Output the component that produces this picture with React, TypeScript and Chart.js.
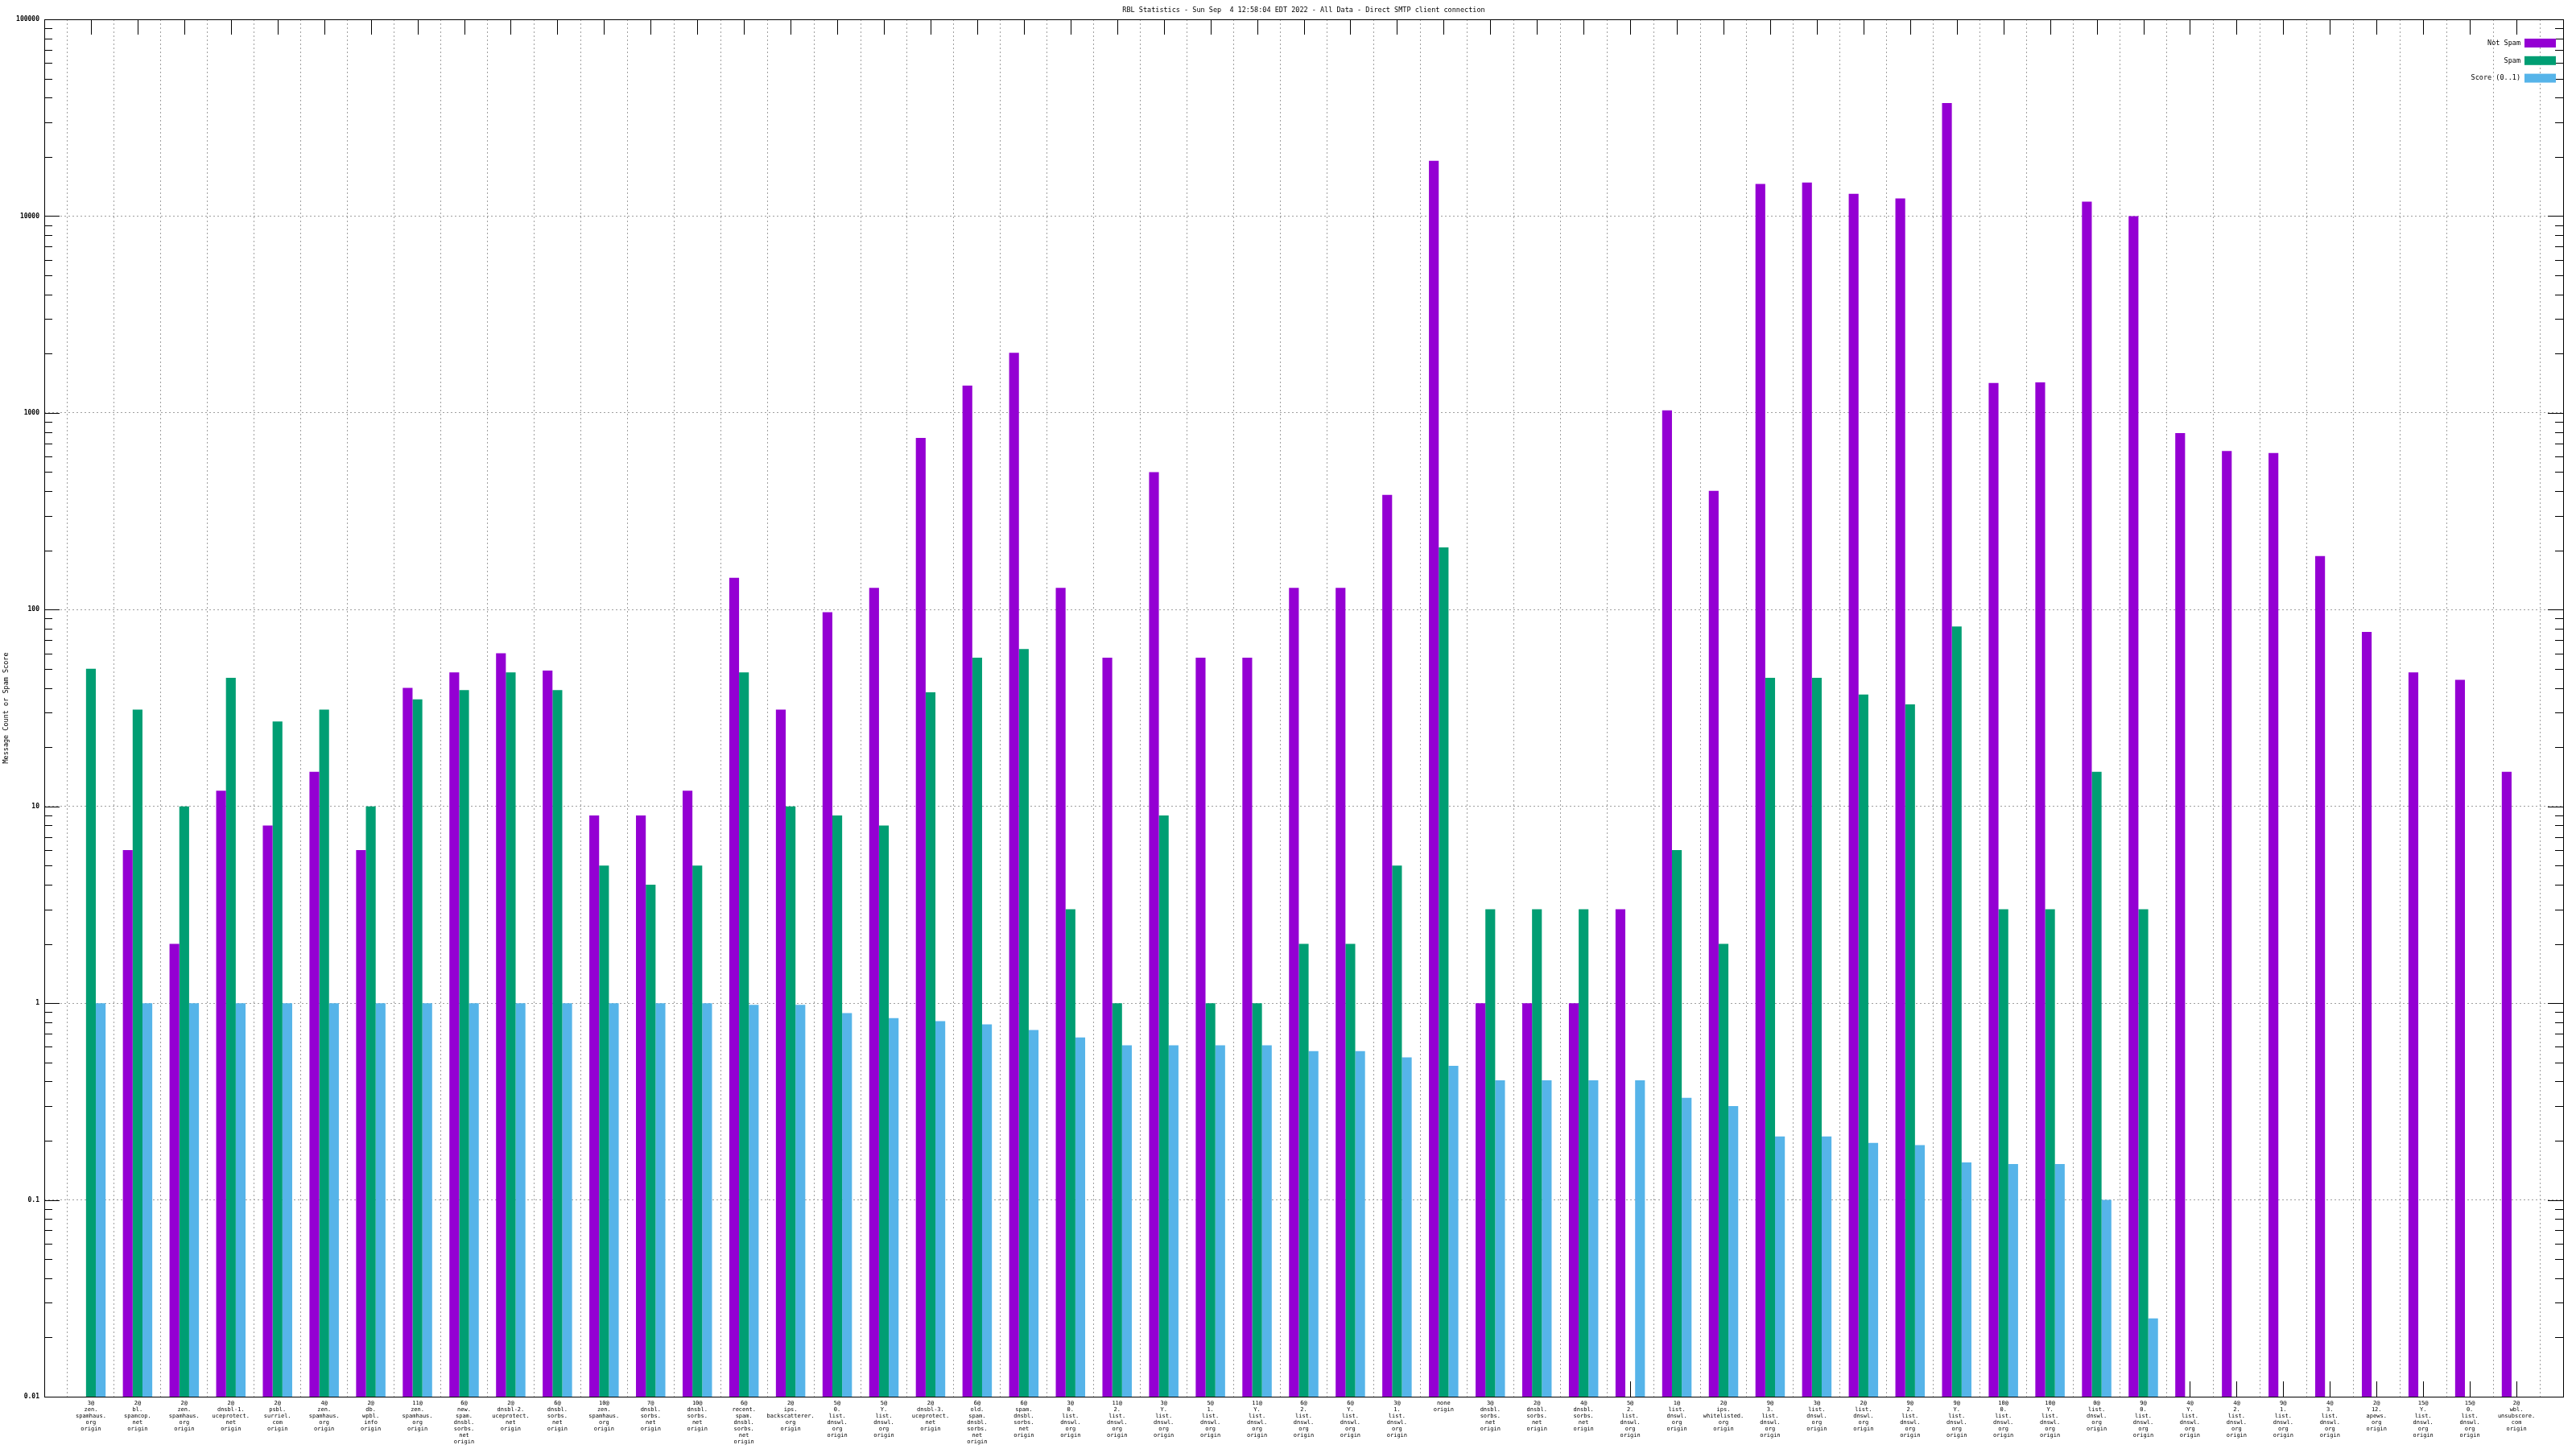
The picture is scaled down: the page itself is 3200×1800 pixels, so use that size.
import React, { useEffect, useRef } from "react";
import { Chart, registerables } from "chart.js";

Chart.register(...registerables);

const chartTitle =
  "RBL Statistics - Sun Sep  4 12:58:04 EDT 2022 - All Data - Direct SMTP client connection";
const yAxisTitle = "Message Count or Spam Score";

const categories: string[][] = [
  ["3@", "zen.", "spamhaus.", "org", "origin"],
  ["2@", "bl.", "spamcop.", "net", "origin"],
  ["2@", "zen.", "spamhaus.", "org", "origin"],
  ["2@", "dnsbl-1.", "uceprotect.", "net", "origin"],
  ["2@", "psbl.", "surriel.", "com", "origin"],
  ["4@", "zen.", "spamhaus.", "org", "origin"],
  ["2@", "db.", "wpbl.", "info", "origin"],
  ["11@", "zen.", "spamhaus.", "org", "origin"],
  ["6@", "new.", "spam.", "dnsbl.", "sorbs.", "net", "origin"],
  ["2@", "dnsbl-2.", "uceprotect.", "net", "origin"],
  ["6@", "dnsbl.", "sorbs.", "net", "origin"],
  ["10@", "zen.", "spamhaus.", "org", "origin"],
  ["7@", "dnsbl.", "sorbs.", "net", "origin"],
  ["10@", "dnsbl.", "sorbs.", "net", "origin"],
  ["6@", "recent.", "spam.", "dnsbl.", "sorbs.", "net", "origin"],
  ["2@", "ips.", "backscatterer.", "org", "origin"],
  ["5@", "0.", "list.", "dnswl.", "org", "origin"],
  ["5@", "Y.", "list.", "dnswl.", "org", "origin"],
  ["2@", "dnsbl-3.", "uceprotect.", "net", "origin"],
  ["6@", "old.", "spam.", "dnsbl.", "sorbs.", "net", "origin"],
  ["6@", "spam.", "dnsbl.", "sorbs.", "net", "origin"],
  ["3@", "0.", "list.", "dnswl.", "org", "origin"],
  ["11@", "2.", "list.", "dnswl.", "org", "origin"],
  ["3@", "Y.", "list.", "dnswl.", "org", "origin"],
  ["5@", "1.", "list.", "dnswl.", "org", "origin"],
  ["11@", "Y.", "list.", "dnswl.", "org", "origin"],
  ["6@", "2.", "list.", "dnswl.", "org", "origin"],
  ["6@", "Y.", "list.", "dnswl.", "org", "origin"],
  ["3@", "1.", "list.", "dnswl.", "org", "origin"],
  ["none", "origin"],
  ["3@", "dnsbl.", "sorbs.", "net", "origin"],
  ["2@", "dnsbl.", "sorbs.", "net", "origin"],
  ["4@", "dnsbl.", "sorbs.", "net", "origin"],
  ["5@", "2.", "list.", "dnswl.", "org", "origin"],
  ["1@", "list.", "dnswl.", "org", "origin"],
  ["2@", "ips.", "whitelisted.", "org", "origin"],
  ["9@", "3.", "list.", "dnswl.", "org", "origin"],
  ["3@", "list.", "dnswl.", "org", "origin"],
  ["2@", "list.", "dnswl.", "org", "origin"],
  ["9@", "2.", "list.", "dnswl.", "org", "origin"],
  ["9@", "Y.", "list.", "dnswl.", "org", "origin"],
  ["10@", "0.", "list.", "dnswl.", "org", "origin"],
  ["10@", "Y.", "list.", "dnswl.", "org", "origin"],
  ["0@", "list.", "dnswl.", "org", "origin"],
  ["9@", "0.", "list.", "dnswl.", "org", "origin"],
  ["4@", "Y.", "list.", "dnswl.", "org", "origin"],
  ["4@", "2.", "list.", "dnswl.", "org", "origin"],
  ["9@", "1.", "list.", "dnswl.", "org", "origin"],
  ["4@", "3.", "list.", "dnswl.", "org", "origin"],
  ["2@", "12.", "apews.", "org", "origin"],
  ["15@", "Y.", "list.", "dnswl.", "org", "origin"],
  ["15@", "0.", "list.", "dnswl.", "org", "origin"],
  ["2@", "wbl.", "unsubscore.", "com", "origin"],
];

const notSpam: (number | null)[] = [
  null, 6, 2, 12, 8, 15, 6, 40, 48, 60, 49, 9, 9, 12, 145, 31, 97, 129, 745, 1375,
  2020, 129, 57, 500, 57, 57, 129, 129, 383, 19090, 1, 1, 1, 3, 1029, 401, 14560,
  14825, 12970, 12290, 37500, 1418, 1430, 11830, 10000, 790, 640, 625, 187, 77, 48,
  44, 15,
];

const spam: (number | null)[] = [
  50, 31, 10, 45, 27, 31, 10, 35, 39, 48, 39, 5, 4, 5, 48, 10, 9, 8, 38, 57, 63, 3,
  1, 9, 1, 1, 2, 2, 5, 207, 3, 3, 3, null, 6, 2, 45, 45, 37, 33, 82, 3, 3, 15, 3,
  null, null, null, null, null, null, null, null,
];

const score: (number | null)[] = [
  1, 1, 1, 1, 1, 1, 1, 1, 1, 1, 1, 1, 1, 1, 0.98, 0.98, 0.89, 0.84, 0.81, 0.78,
  0.73, 0.67, 0.61, 0.61, 0.61, 0.61, 0.57, 0.57, 0.53, 0.48, 0.405, 0.405, 0.405,
  0.405, 0.33, 0.3, 0.21, 0.21, 0.195, 0.19, 0.155, 0.152, 0.152, 0.1, 0.025,
  null, null, null, null, null, null, null, null,
];

const seriesNames = ["Not Spam", "Spam", "Score (0..1)"];
const seriesColors = ["#9400D3", "#009E73", "#56B4E9"];

const yTicks = [0.01, 0.1, 1, 10, 100, 1000, 10000, 100000];
const yTickLabels = ["0.01", "0.1", "1", "10", "100", "1000", "10000", "100000"];
const minorMultipliers = [2, 3, 4, 5, 6, 7, 8, 9];

const MONO = "'DejaVu Sans Mono', 'Liberation Mono', monospace";

const decorPlugin = {
  id: "gnuplotDecor",
  beforeDatasetsDraw(chart: any) {
    const { ctx, chartArea: a, scales } = chart;
    const xs = scales.x;
    const ys = scales.y;
    ctx.save();
    ctx.strokeStyle = "#000";
    ctx.lineWidth = 1;
    ctx.beginPath();
    yTicks.forEach((v) => {
      const py = Math.round(ys.getPixelForValue(v)) + 0.5;
      ctx.moveTo(a.left, py);
      ctx.lineTo(a.left + 19, py);
      ctx.moveTo(a.right, py);
      ctx.lineTo(a.right - 19, py);
      if (v < 100000) {
        minorMultipliers.forEach((m) => {
          const pm = Math.round(ys.getPixelForValue(v * m)) + 0.5;
          ctx.moveTo(a.left, pm);
          ctx.lineTo(a.left + 10, pm);
          ctx.moveTo(a.right, pm);
          ctx.lineTo(a.right - 10, pm);
        });
      }
    });
    categories.forEach((_, i) => {
      const px = Math.round(xs.getPixelForValue(i)) + 0.5;
      ctx.moveTo(px, a.top);
      ctx.lineTo(px, a.top + 19);
      ctx.moveTo(px, a.bottom);
      ctx.lineTo(px, a.bottom - 19);
    });
    ctx.stroke();
    ctx.restore();
  },
  afterDatasetsDraw(chart: any) {
    const { ctx, chartArea: a } = chart;
    ctx.save();
    ctx.strokeStyle = "#000";
    ctx.lineWidth = 1;
    ctx.strokeRect(Math.round(a.left) + 0.5, Math.round(a.top) + 0.5, Math.round(a.right - a.left), Math.round(a.bottom - a.top));

    ctx.fillStyle = "#000";
    ctx.font = `8.5px ${MONO}`;
    ctx.textAlign = "center";
    ctx.textBaseline = "middle";
    ctx.fillText(chartTitle, (a.left + a.right) / 2, 12.5);

    ctx.save();
    ctx.translate(7.5, (a.top + a.bottom) / 2);
    ctx.rotate(-Math.PI / 2);
    ctx.fillText(yAxisTitle, 0, 0);
    ctx.restore();

    ctx.textAlign = "right";
    chart.data.datasets.forEach((ds: any, i: number) => {
      const cy = a.top + 29.5 + i * 21.8;
      const bx = a.right - 48;
      ctx.fillStyle = ds.backgroundColor;
      ctx.fillRect(bx, cy - 5.5, 39, 11);
      ctx.fillStyle = "#000";
      ctx.fillText(ds.label, bx - 5, cy);
    });
    ctx.restore();
  },
};

export default function App() {
  const canvasRef = useRef<HTMLCanvasElement | null>(null);

  useEffect(() => {
    const canvas = canvasRef.current;
    if (!canvas) return;
    const seriesData = [notSpam, spam, score];
    const chart = new Chart(canvas, {
      type: "bar",
      data: {
        datasets: seriesData.map((arr, si) => ({
          label: seriesNames[si],
          data: arr.map((v, i) => ({ x: i, y: v })),
          backgroundColor: seriesColors[si],
          borderWidth: 0,
          categoryPercentage: 0.63,
          barPercentage: 1.0,
        })),
      } as any,
      options: {
        animation: false,
        responsive: false,
        devicePixelRatio: 1,
        layout: { padding: { top: 24, right: 16, left: 0, bottom: 0 } },
        plugins: {
          legend: { display: false },
          title: { display: false },
          tooltip: { enabled: false },
        },
        scales: {
          x: {
            type: "linear",
            min: -1,
            max: 53,
            offset: false,
            afterBuildTicks: (s: any) => {
              s.ticks = categories.map((_, i) => ({ value: i }));
            },
            afterFit: (s: any) => {
              s.height = 65;
            },
            ticks: {
              autoSkip: false,
              maxRotation: 0,
              minRotation: 0,
              padding: 4,
              color: "#000",
              font: { family: MONO, size: 7, lineHeight: "8px" } as any,
              callback: (v: any) => categories[v] ?? "",
            },
            grid: { drawTicks: false, color: "#a0a0a0", lineWidth: 1 },
            border: { display: false, dash: [2, 3] },
          },
          y: {
            type: "logarithmic",
            min: 0.01,
            max: 100000,
            afterBuildTicks: (s: any) => {
              s.ticks = yTicks.map((v) => ({ value: v }));
            },
            afterFit: (s: any) => {
              s.width = 55;
            },
            ticks: {
              padding: 6,
              color: "#000",
              font: { family: MONO, size: 8, weight: "bold" },
              callback: (_v: any, idx: number) => yTickLabels[idx],
            },
            grid: { drawTicks: false, color: "#a0a0a0", lineWidth: 1 },
            border: { display: false, dash: [2, 3] },
          },
        },
      } as any,
      plugins: [decorPlugin],
    });
    return () => chart.destroy();
  }, []);

  return (
    <div style={{ position: "fixed", left: 0, top: 0, width: 3200, height: 1800, background: "#fff" }}>
      <canvas ref={canvasRef} width={3200} height={1800} style={{ display: "block", width: 3200, height: 1800 }} />
    </div>
  );
}
